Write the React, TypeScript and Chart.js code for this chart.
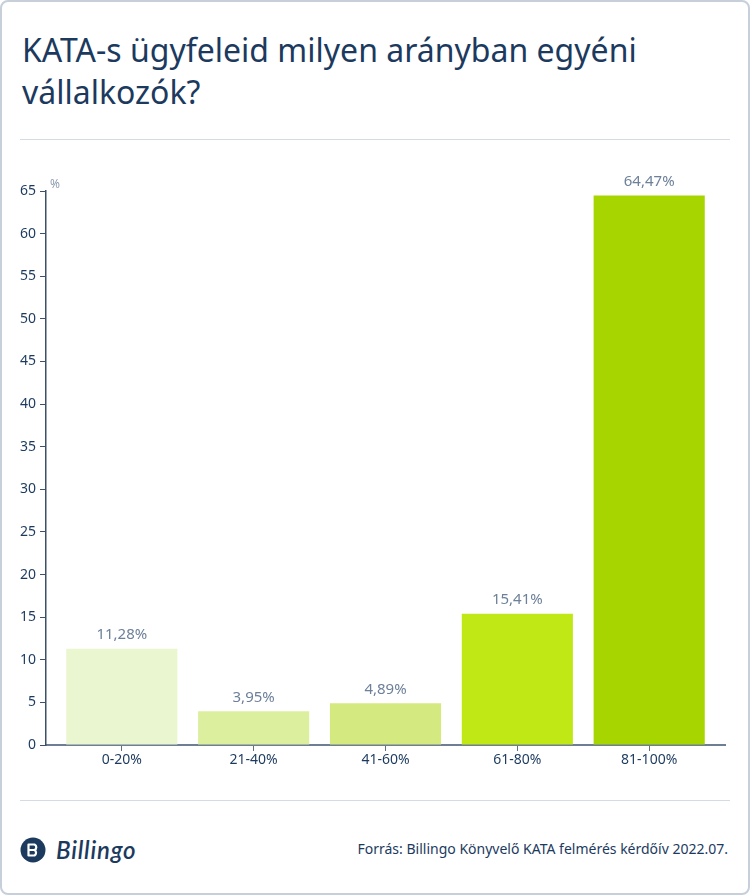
import React, { useEffect, useRef } from "react";
import { Chart, registerables } from "chart.js";

Chart.register(...registerables);

const categories = ["0-20%", "21-40%", "41-60%", "61-80%", "81-100%"];
const values = [11.28, 3.95, 4.89, 15.41, 64.47];
const valueLabels = ["11,28%", "3,95%", "4,89%", "15,41%", "64,47%"];
const barColors = ["#eaf6cf", "#dcef9e", "#d4ea80", "#bfe815", "#a7d500"];
const yTicks = [0, 5, 10, 15, 20, 25, 30, 35, 40, 45, 50, 55, 60, 65];

const NAVY = "#1c3a5e";
const LABEL_GRAY = "#6d8099";

const overlayPlugin = {
  id: "overlayText",
  afterDatasetsDraw(chart: any) {
    const ctx = chart.ctx;
    const meta = chart.getDatasetMeta(0);
    ctx.save();
    ctx.font = "15px 'Noto Sans', sans-serif";
    ctx.fillStyle = LABEL_GRAY;
    ctx.textAlign = "center";
    ctx.textBaseline = "middle";
    meta.data.forEach((bar: any, i: number) => {
      ctx.fillText(valueLabels[i], bar.x, bar.y - 14);
    });
    ctx.font = "12px 'Noto Sans', sans-serif";
    ctx.fillStyle = "#8d9db2";
    ctx.textAlign = "left";
    ctx.fillText("%", chart.chartArea.left + 4, chart.chartArea.top - 6);
    ctx.restore();
  },
};

function BarChart() {
  const ref = useRef<HTMLCanvasElement | null>(null);
  useEffect(() => {
    if (!ref.current) return;
    const chart = new Chart(ref.current, {
      type: "bar",
      data: {
        datasets: [
          {
            data: values.map((v, i) => ({ x: i, y: v })),
            backgroundColor: barColors,
            borderWidth: 0,
            categoryPercentage: 1,
            barPercentage: 0.843,
          },
        ],
      },
      options: {
        animation: false,
        responsive: false,
        devicePixelRatio: 1,
        layout: { padding: { top: 43, right: 25, left: 0, bottom: 0 } },
        plugins: { legend: { display: false }, tooltip: { enabled: false } },
        scales: {
          x: {
            type: "linear",
            min: -0.575,
            max: 4.575,
            offset: false,
            afterBuildTicks: (s: any) => {
              s.ticks = categories.map((_, i) => ({ value: i }));
            },
            grid: {
              display: true,
              offset: false,
              drawOnChartArea: false,
              drawTicks: true,
              tickLength: 6,
              color: "#5f6f84",
              lineWidth: 1,
            },
            border: { display: true, color: "#6f7f93", width: 2 },
            ticks: {
              autoSkip: false,
              maxRotation: 0,
              padding: 1,
              color: NAVY,
              font: { family: "'Noto Sans', sans-serif", size: 14 },
              callback: (v: any) => categories[Math.round(v)] ?? "",
            },
            afterFit: (s: any) => {
              s.height = 43;
            },
          },
          y: {
            min: 0,
            max: 65,
            afterBuildTicks: (s: any) => {
              s.ticks = yTicks.map((v) => ({ value: v }));
            },
            grid: {
              display: true,
              drawOnChartArea: false,
              drawTicks: true,
              tickLength: 6,
              color: "#3d5068",
              lineWidth: 1,
            },
            border: { display: true, color: "#3d5068", width: 1.5 },
            ticks: {
              padding: 4,
              color: NAVY,
              font: { family: "'Noto Sans', sans-serif", size: 14 },
            },
            afterFit: (s: any) => {
              s.width = 46;
            },
          },
        },
      },
      plugins: [overlayPlugin],
    } as any);
    return () => chart.destroy();
  }, []);
  return <canvas ref={ref} width={750} height={640} style={{ display: "block" }} />;
}

export default function App() {
  useEffect(() => {
    document.body.style.margin = "0";
  }, []);
  return (
    <div
      style={{
        position: "fixed",
        left: 0,
        top: 0,
        width: 750,
        height: 895,
        boxSizing: "border-box",
        border: "2px solid #c6cfda",
        borderRadius: 8,
        background: "#ffffff",
        fontFamily: "'Noto Sans', sans-serif",
        overflow: "hidden",
      }}
    >
      <div
        style={{
          position: "absolute",
          left: 20,
          top: 27,
          width: 700,
          fontSize: 32,
          lineHeight: "42px",
          color: NAVY,
        }}
      >
        KATA-s ügyfeleid milyen arányban egyéni vállalkozók?
      </div>
      <div
        style={{
          position: "absolute",
          left: 18,
          top: 137,
          width: 710,
          height: 1,
          background: "#d5dbe3",
        }}
      />
      <div style={{ position: "absolute", left: -2, top: 146 }}>
        <BarChart />
      </div>
      <div
        style={{
          position: "absolute",
          left: 18,
          top: 798,
          width: 710,
          height: 1,
          background: "#d5dbe3",
        }}
      />
      <div
        style={{
          position: "absolute",
          left: 18,
          top: 833,
          display: "flex",
          alignItems: "center",
        }}
      >
        <svg width="26" height="26" viewBox="0 0 26 26">
          <circle cx="13" cy="13" r="12.5" fill={NAVY} />
          <path
            d="M8.5 7.5 H14.5 a3 3 0 0 1 0 5.5 a3.2 3.2 0 0 1 0 5.5 H8.5 Z M8.5 13 H14"
            fill="none"
            stroke="#ffffff"
            strokeWidth="2.2"
            strokeLinejoin="round"
          />
        </svg>
        <span
          style={{
            marginLeft: 10,
            fontSize: 24,
            fontStyle: "italic",
            fontWeight: 600,
            color: NAVY,
            fontFamily: "'Lato', sans-serif",
            letterSpacing: 0.8,
          }}
        >
          Billingo
        </span>
      </div>
      <div
        style={{
          position: "absolute",
          right: 20,
          top: 837,
          fontSize: 14,
          color: NAVY,
        }}
      >
        Forrás: Billingo Könyvelő KATA felmérés kérdőív 2022.07.
      </div>
    </div>
  );
}
